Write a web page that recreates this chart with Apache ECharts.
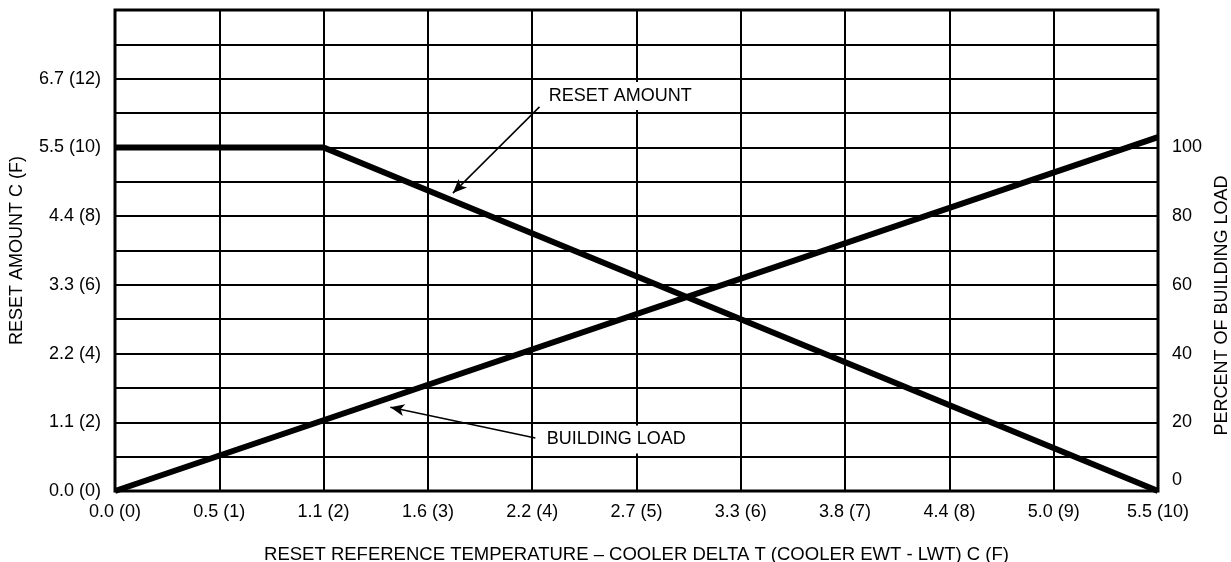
<!DOCTYPE html>
<html>
<head>
<meta charset="utf-8">
<script src="https://cdn.jsdelivr.net/npm/echarts@6/dist/echarts.min.js"></script>
<style>
  html, body { margin: 0; padding: 0; background: #fff; }
  #chart { width: 1231px; height: 562px; }
</style>
</head>
<body>
<div id="chart"></div>
<script>
// X axis: reset reference temperature, in deg F steps with C equivalents
const xTickLabels = ['0.0 (0)', '0.5 (1)', '1.1 (2)', '1.6 (3)', '2.2 (4)', '2.7 (5)',
                     '3.3 (6)', '3.8 (7)', '4.4 (8)', '5.0 (9)', '5.5 (10)'];
// Left axis: reset amount, labelled every 2 deg F
const resetTickValues = [0, 2, 4, 6, 8, 10, 12];
const resetTickLabels = ['0.0 (0)', '1.1 (2)', '2.2 (4)', '3.3 (6)', '4.4 (8)', '5.5 (10)', '6.7 (12)'];
// Right axis: percent of building load
const loadTickValues = [0, 20, 40, 60, 80, 100];

// Series, as [delta T (F), value]
const resetAmount = [[0, 10], [2, 10], [10, 0]];          // deg F
const buildingLoad = [[0, 0], [10, 103]];                  // percent

// Callouts: text anchor, arrow tail and arrow head, in left-axis data units
const calloutText = ['RESET AMOUNT', 'BUILDING LOAD'];
const calloutAnchor = [[4.14, 11.5], [4.12, 1.5]];
const calloutTail = [[4.07, 11.18], [4.03, 1.54]];
const calloutHead = [[3.24, 8.67], [2.64, 2.44]];

const FONT = '"Liberation Sans", Arial, Helvetica, sans-serif';
const INK = '#000';

const chart = echarts.init(document.getElementById('chart'), null, { renderer: 'canvas' });

const option = {
  animation: false,
  backgroundColor: '#fff',
  textStyle: { fontFamily: FONT, color: INK },
  grid: {
    left: 115, right: 73, top: 10, bottom: 71,
    containLabel: false, outerBoundsMode: 'none',
    show: true, borderColor: INK, borderWidth: 3, backgroundColor: 'transparent'
  },
  xAxis: {
    type: 'value', min: 0, max: 10, interval: 1,
    name: 'RESET REFERENCE TEMPERATURE \u2013 COOLER DELTA T (COOLER EWT - LWT) C (F)',
    nameLocation: 'middle', nameGap: 54,
    nameTextStyle: { fontFamily: FONT, fontSize: 18.5, color: INK },
    axisLine: { show: false }, axisTick: { show: false },
    axisLabel: {
      margin: 12, fontFamily: FONT, fontSize: 18, color: INK,
      formatter: v => xTickLabels[Math.round(v)] || ''
    },
    splitLine: { show: true, lineStyle: { color: INK, width: 2 } }
  },
  yAxis: [
    {
      type: 'value', min: 0, max: 14, interval: 1, position: 'left',
      name: 'RESET AMOUNT C (F)', nameLocation: 'middle', nameGap: 89,
      nameTextStyle: { fontFamily: FONT, fontSize: 18, color: INK },
      axisLine: { show: false }, axisTick: { show: false },
      axisLabel: {
        margin: 14, fontFamily: FONT, fontSize: 18, color: INK,
        formatter: v => {
          const i = resetTickValues.indexOf(Math.round(v));
          return i >= 0 ? resetTickLabels[i] : '';
        }
      },
      splitLine: { show: true, lineStyle: { color: INK, width: 2 } }
    },
    {
      type: 'value', min: 0, max: 140, interval: 20, position: 'right',
      name: 'PERCENT OF BUILDING LOAD', nameLocation: 'middle', nameGap: 50,
      nameTextStyle: { fontFamily: FONT, fontSize: 18, color: INK, padding: [0, 110, 0, 0] },
      axisLine: { show: false }, axisTick: { show: false },
      axisLabel: {
        margin: 14, fontFamily: FONT, fontSize: 18, color: INK,
        formatter: v => {
          const r = Math.round(v);
          if (loadTickValues.indexOf(r) < 0) return '';
          return r === 0 ? '{lift|0}' : String(r);
        },
        rich: { lift: { fontFamily: FONT, fontSize: 18, color: INK, padding: [0, 0, 22, 0] } }
      },
      splitLine: { show: false }
    }
  ],
  series: [
    {
      name: 'RESET AMOUNT', type: 'line', yAxisIndex: 0,
      data: resetAmount, showSymbol: false, symbol: 'none',
      lineStyle: { color: INK, width: 6, cap: 'butt', join: 'miter' },
      z: 5,
      markLine: {
        silent: true, symbol: ['none', 'arrow'], symbolSize: [9, 14],
        lineStyle: { color: INK, width: 1.5, type: 'solid' },
        label: { show: false },
        data: calloutTail.map((t, i) => [
          { coord: t, symbol: 'none' },
          { coord: calloutHead[i], symbol: 'arrow' }
        ])
      }
    },
    {
      name: 'BUILDING LOAD', type: 'line', yAxisIndex: 1,
      data: buildingLoad, showSymbol: false, symbol: 'none',
      lineStyle: { color: INK, width: 6, cap: 'butt' },
      z: 5
    }
  ]
};

chart.setOption(option);

// Callout captions on white boxes, placed through the chart's own scales
chart.setOption({
  graphic: calloutText.map((txt, i) => {
    const p = chart.convertToPixel({ gridIndex: 0 }, calloutAnchor[i]);
    return {
      type: 'text', x: p[0], y: p[1], z: 100,
      style: {
        text: txt, font: '18px ' + FONT, fill: INK, lineHeight: 18,
        align: 'left', verticalAlign: 'middle',
        backgroundColor: '#fff', padding: [5, 4, 5, 2]
      }
    };
  })
});
</script>
</body>
</html>
